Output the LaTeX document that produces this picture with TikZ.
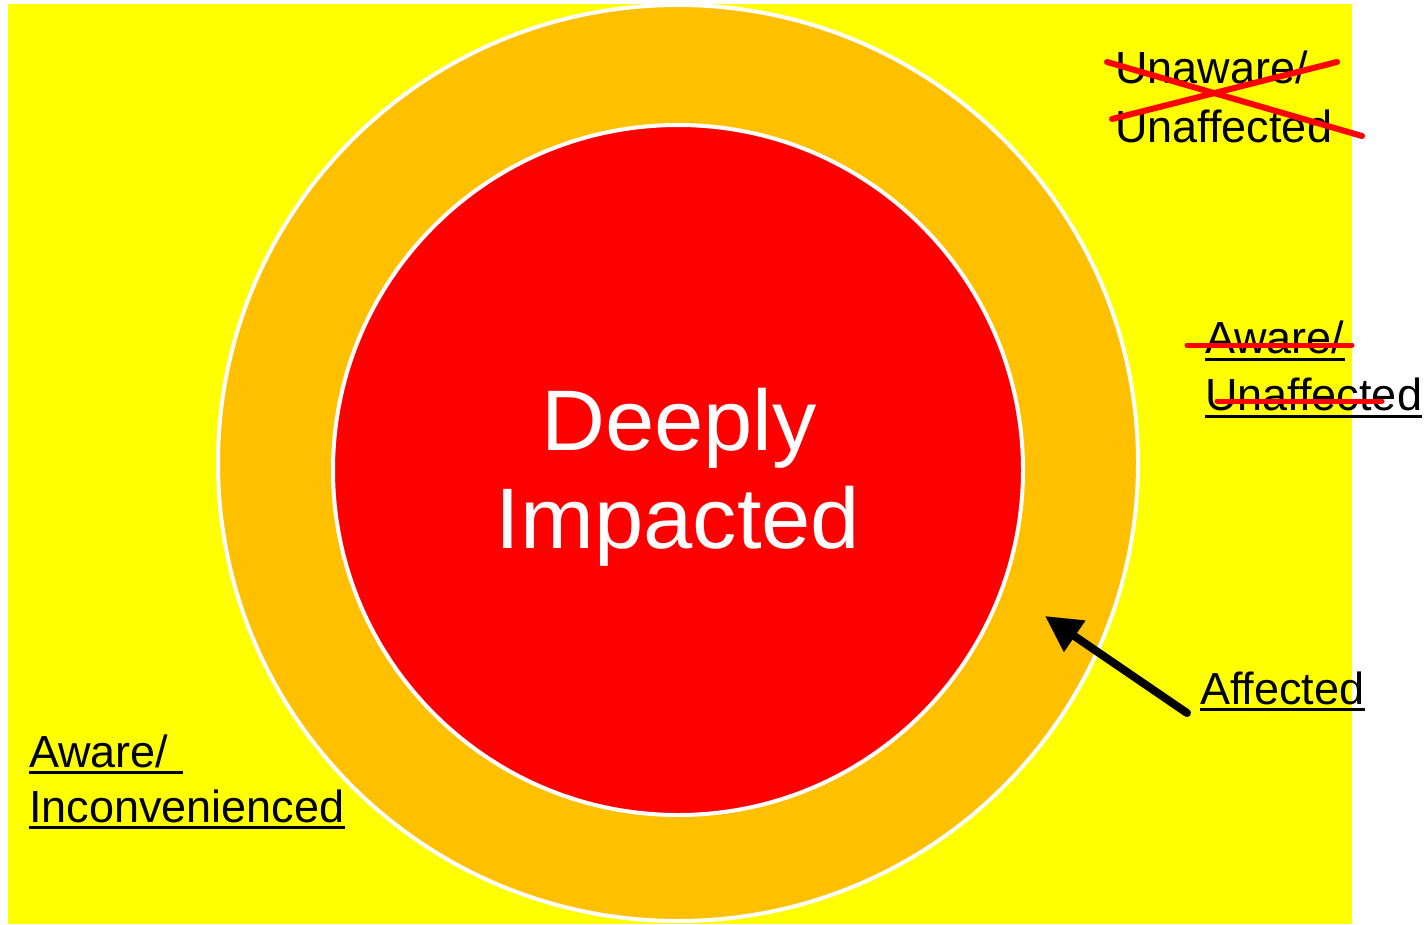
\documentclass[tikz,border=0pt]{standalone}
\usepackage{fontspec}
\setmainfont{Liberation Sans}
\newfontfamily\bigfont[FakeStretch=1.03]{Liberation Sans}
\usetikzlibrary{arrows.meta}
\definecolor{bgyellow}{HTML}{FFFF00}
\definecolor{ringorange}{HTML}{FFC000}
\definecolor{corered}{HTML}{FF0000}
\tikzset{
  lbl/.style={anchor=base west, inner sep=0pt, font=\fontsize{45}{54}\selectfont, text=black},
  big/.style={anchor=base, inner sep=0pt, font=\bigfont\fontsize{86}{98}\selectfont, text=white},
  uline/.style={line width=3pt, black},
  strike/.style={line width=6pt, corered, line cap=round},
  ring/.style={draw=white, line width=4pt}
}
\begin{document}
\begin{tikzpicture}[x=1pt,y=-1pt]
\useasboundingbox (0,0) rectangle (1424,924);
\fill[white] (0,0) rectangle (1424,924);
\fill[bgyellow] (8,4) rectangle (1352,924);
\begin{scope}
\clip (0,0) rectangle (1424,924);
\path[ring, fill=ringorange] (678,463) ellipse [x radius=460, y radius=458];
\end{scope}
\path[ring, fill=corered] (678,470) circle [radius=345];
\node[big] (d1) at (679,450) {Deeply};
\node[big] (d2) at (678,548) {Impacted};
% top right crossed out
\node[lbl] (u1) at (1115,83) {Unaware/};
\node[lbl] (u2) at (1115,142) {Unaffected};
\coordinate (x1a) at (1107,62);
\coordinate (x1b) at (1362,136);
\coordinate (x2a) at (1112,119);
\coordinate (x2b) at (1337,62);
\draw[strike] (x1a) -- (x1b);
\draw[strike] (x2a) -- (x2b);
% aware / unaffected
\node[lbl] (w1) at (1205,353) {Aware/};
\node[lbl] (w2) at (1205,410) {Unaffected};
\draw[uline] ([yshift=-6pt]w1.base west) -- ([yshift=-6pt]w1.base east);
\draw[uline] ([yshift=-6pt]w2.base west) -- ([yshift=-6pt]w2.base east);
\coordinate (s1a) at (1187,345);
\coordinate (s1b) at (1352,345);
\coordinate (s2a) at (1217,401);
\coordinate (s2b) at (1382,401);
\draw[strike, line width=5pt] (s1a) -- (s1b);
\draw[strike, line width=5pt] (s2a) -- (s2b);
% affected
\node[lbl] (af) at (1200,704) {Affected};
\draw[uline] ([yshift=-5pt]af.base west) -- ([yshift=-5pt]af.base east);
\coordinate (ar1) at (1187,713);
\coordinate (ar2) at (1045,616);
\draw[line width=8pt, line cap=round, -{Triangle[length=36pt,width=36pt]}] (ar1) -- (ar2);
% aware / inconvenienced
\node[lbl] (i1) at (29,767) {Aware/\kern14pt};
\node[lbl] (i2) at (29,822) {Inconvenienced};
\draw[uline] ([yshift=-5pt]i1.base west) -- ([yshift=-5pt]i1.base east);
\draw[uline] ([yshift=-5pt]i2.base west) -- ([yshift=-5pt]i2.base east);
\end{tikzpicture}
\end{document}
